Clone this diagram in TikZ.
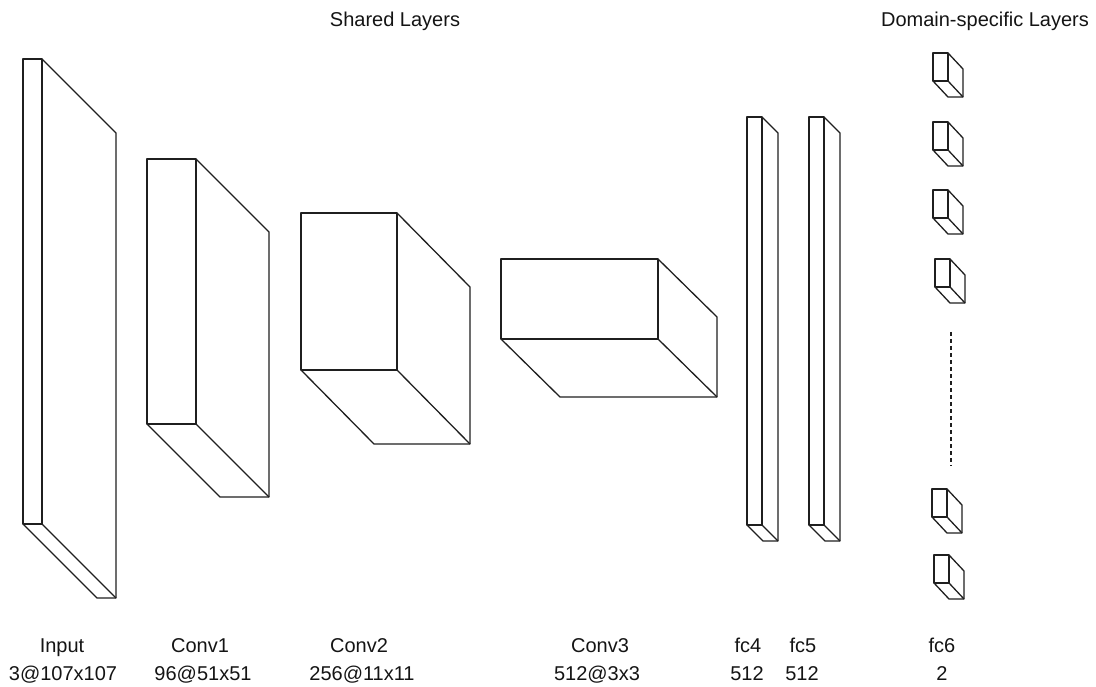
\documentclass[tikz,border=0pt]{standalone}
\usepackage{fontspec}
\setmainfont{Liberation Sans}
\tikzset{
  edge/.style={draw=black!88, line width=1.3pt, line join=round},
  lbl/.style={anchor=base, inner sep=0pt, font=\fontsize{20}{24}\selectfont, text=black!92},
  dots/.style={draw=black!88, line width=1.3pt, dash pattern=on 4pt off 3pt}
}
% cuboid: front face (#1,#2)-(#3,#4), depth offset (#5,#6)
\newcommand\layerbox[6]{%
  \draw[edge] (#1,#2) rectangle (#3,#4);
  \draw[edge] (#3,#2) -- (#3+#5,#2+#6) -- (#3+#5,#4+#6) -- (#1+#5,#4+#6) -- (#1,#4);
  \draw[edge] (#3,#4) -- (#3+#5,#4+#6);
}
\begin{document}
\begin{tikzpicture}[x=1pt,y=-1pt]
\useasboundingbox (0,0) rectangle (1096,687);

% titles
\node[lbl] (tshared) at (395,27) {Shared Layers};
\node[lbl] (tdomain) at (985,27) {Domain-specific Layers};

% shared layers
\layerbox{23}{59}{42}{524}{74}{74}
\layerbox{147}{159}{196}{424}{73}{73}
\layerbox{301}{213}{397}{370}{73}{74}
\layerbox{501}{259}{658}{339}{59}{58}
\layerbox{747}{117}{762}{525}{16}{16}
\layerbox{809}{117}{824}{525}{16}{16}

% domain-specific branches
\layerbox{933}{53}{948}{81}{15}{16}
\layerbox{933}{122}{948}{150}{15}{16}
\layerbox{933}{190}{948}{218}{15}{16}
\layerbox{935}{259}{950}{287}{15}{16}
\layerbox{932}{489}{947}{517}{15}{16}
\layerbox{934}{555}{949}{583}{15}{16}
\coordinate (dtop) at (951,332);
\coordinate (dbot) at (951,466);
\draw[dots] (dtop) -- (dbot);

% layer captions
\node[lbl] (nin)  at (62,652)  {Input};
\node[lbl] (nin2) at (63,680)  {3@107x107};
\node[lbl] (nc1)  at (200,652) {Conv1};
\node[lbl] (nc12) at (203,680) {96@51x51};
\node[lbl] (nc2)  at (359,652) {Conv2};
\node[lbl] (nc22) at (362,680) {256@11x11};
\node[lbl] (nc3)  at (600,652) {Conv3};
\node[lbl] (nc32) at (597,680) {512@3x3};
\node[lbl] (nf4)  at (748,652) {fc4};
\node[lbl] (nf42) at (747,680) {512};
\node[lbl] (nf5)  at (803,652) {fc5};
\node[lbl] (nf52) at (802,680) {512};
\node[lbl] (nf6)  at (942,652) {fc6};
\node[lbl] (nf62) at (942,680) {2};
\end{tikzpicture}
\end{document}
